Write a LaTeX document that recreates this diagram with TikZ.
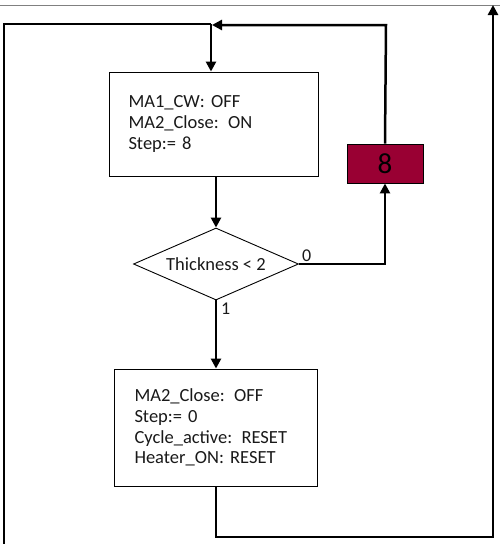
\documentclass[tikz,border=0pt]{standalone}
\usepackage{fontspec}
\setmainfont{Carlito}
\usetikzlibrary{shapes.geometric,arrows.meta}
\definecolor{maroon}{RGB}{153,0,51}
\definecolor{txt}{RGB}{25,25,25}
\begin{document}
\begin{tikzpicture}[x=1pt,y=-1pt,
  boxstyle/.style={draw=black, line width=0.9pt, rectangle, align=left, text=txt,
    font=\fontsize{18.5}{20.7}\selectfont},
  dia/.style={draw=black, line width=0.9pt, diamond, aspect=2.29, inner sep=0pt,
    minimum width=165, minimum height=72, text=txt, font=\fontsize{18.5}{20.7}\selectfont},
  stepbox/.style={draw=black, line width=0.9pt, fill=maroon, minimum width=76,
    minimum height=39, inner sep=0pt, font=\fontsize{29}{31}\selectfont},
  conn/.style={line width=2.5pt, line join=miter},
  arr/.style={conn, -{Triangle[length=10pt,width=10pt]}},
  lbl/.style={font=\fontsize{18}{20}\selectfont, text=txt, inner sep=1pt}
]
\useasboundingbox (0,0) rectangle (500,544);
\draw[gray, line width=1.3pt] (0,5.5) -- (500,5.5);

\node[boxstyle, minimum width=209, minimum height=104, text width=171, inner xsep=19, inner ysep=0pt] (b1) at (214,124) {MA1\_CW: OFF\\MA2\_Close: ON\\Step:= 8};
\node[dia] (d) at (216,264) {Thickness < 2};
\node[stepbox] (s8) at (385,163.5) {8};
\node[boxstyle, minimum width=203, minimum height=117, text width=163, inner xsep=20, inner ysep=0pt] (b3) at (216,427.5) {MA2\_Close: OFF\\Step:= 0\\Cycle\_active: RESET\\Heater\_ON: RESET};

\coordinate (lb) at (4,546);
\coordinate (tl) at (4,24);
\coordinate (tm) at (211,24);
\coordinate (tr) at (386,25);
\coordinate (tj) at (212,25);
\coordinate (br) at (493,537);
\coordinate (topr) at (493,5);

% left loop into box 1
\draw[conn] (lb) -- (tl) -- (tm);
\draw[arr] (tm) -- (tm |- b1.north);
% box1 to diamond
\draw[arr] (b1.south -| d.north) -- (d.north);
% diamond 0 branch
\draw[arr] (d.east) -- (d.east -| s8.south) -- (s8.south);
\node[lbl, anchor=south west] (l0) at ([xshift=2pt,yshift=1pt]d.east) {0};
% step box back up
\draw[arr] (s8.north) -- (tr) -- (tj);
% diamond 1 branch
\draw[arr] (d.south) -- (b3.north);
\node[lbl, anchor=north west] (l1) at ([xshift=4pt,yshift=-1pt]d.south) {1};
% bottom loop
\draw[arr] (b3.south) -- (b3.south |- br) -- (br) -- (topr);
\end{tikzpicture}
\end{document}
